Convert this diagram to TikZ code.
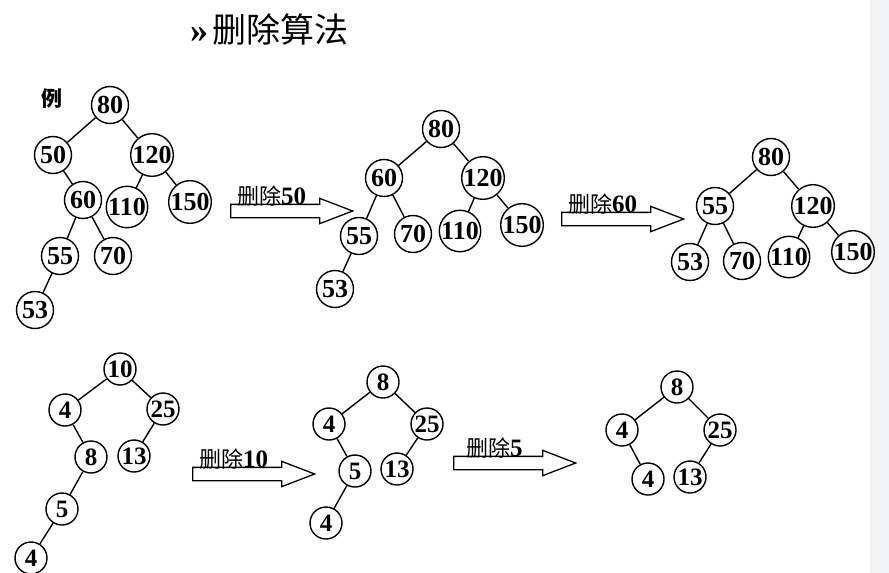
\documentclass[tikz,border=0pt]{standalone}
\usepackage{fontspec}
\setmainfont{Liberation Serif}
\newfontfamily\cjk{Noto Sans CJK SC}
\usetikzlibrary{shapes.arrows}
\definecolor{stripgray}{HTML}{F3F4F6}
\newcommand{\tdel}[1]{{\cjk\fontsize{22}{22}\selectfont 删除}{\fontsize{25}{25}\selectfont\bfseries #1}}

\begin{document}
\begin{tikzpicture}[x=1pt,y=-1pt,
    bignode/.style={circle,draw,line width=1.4pt,inner sep=0pt,minimum size=37pt,font=\fontsize{26}{26}\selectfont\bfseries},
    smallnode/.style={bignode,minimum size=32pt,font=\fontsize{25}{25}\selectfont\bfseries},
    edge/.style={line width=1.4pt},
    delarrow/.style={single arrow,draw,line width=1.3pt,inner xsep=0pt,inner ysep=6pt,minimum height=122pt,minimum width=24pt,
      single arrow head extend=6pt,single arrow tip angle=42,anchor=tail},
    dellabel/.style={anchor=base west,inner sep=0pt}]
  \useasboundingbox (0,0) rectangle (889,573);
  \fill[stripgray] (870,0) rectangle (889,573);

  % title
  \node[anchor=base west,inner sep=0pt] (title) at (190,42)
    {{\fontsize{36}{36}\selectfont\bfseries »}\kern4pt{\cjk\fontsize{34}{34}\selectfont 删除算法}};
  \node[anchor=base,inner sep=0pt] (example) at (52,106) {\cjk\bfseries\fontsize{21}{21}\selectfont 例};

  % first row
  \foreach \n/\x/\y in {80/110/105,50/53/155,120/152/155,60/83/200,110/127/207,150/190/202,55/60/256,70/113/256,53/35/310}
    \node[bignode] (a\n) at (\x,\y) {\n};
  \foreach \n/\x/\y in {80/441/129,60/384/178,120/483/178,55/359/236,70/413/234,110/460/231,150/522/225,53/335/289}
    \node[bignode] (b\n) at (\x,\y) {\n};
  \foreach \n/\x/\y in {80/771/157,55/715/206,120/813/206,53/690/262,70/742/261,110/789/257,150/853/252}
    \node[bignode] (c\n) at (\x,\y) {\n};
  \foreach \u/\v in {a80/a50,a80/a120,a50/a60,a120/a110,a120/a150,a60/a55,a60/a70,a55/a53,
                     b80/b60,b80/b120,b60/b55,b60/b70,b120/b110,b120/b150,b55/b53,
                     c80/c55,c80/c120,c55/c53,c55/c70,c120/c110,c120/c150}
    \draw[edge] (\u) -- (\v);

  \node[delarrow] (del50) at (230,211) {};
  \node[dellabel] at ([xshift=7pt,yshift=7pt]del50.tail) {\tdel{50}};
  \node[delarrow] (del60) at (561,219) {};
  \node[dellabel] at ([xshift=7pt,yshift=7pt]del60.tail) {\tdel{60}};

  % second row
  \foreach \m/\n/\x/\y in {10/10/120/369,4/4/65/410,25/25/163/409,8/8/91/457,13/13/134/456,5/5/62/509,4b/4/31/558}
    \node[smallnode] (d\m) at (\x,\y) {\n};
  \foreach \m/\n/\x/\y in {8/8/383/382,4/4/329/424,25/25/427/424,5/5/355/471,13/13/397/469,4b/4/326/523}
    \node[smallnode] (e\m) at (\x,\y) {\n};
  \foreach \m/\n/\x/\y in {8/8/677/387,4/4/622/430,25/25/720/430,4b/4/648/479,13/13/690/477}
    \node[smallnode] (f\m) at (\x,\y) {\n};
  \foreach \u/\v in {d10/d4,d10/d25,d4/d8,d25/d13,d8/d5,d5/d4b,
                     e8/e4,e8/e25,e4/e5,e25/e13,e5/e4b,
                     f8/f4,f8/f25,f4/f4b,f25/f13}
    \draw[edge] (\u) -- (\v);

  \node[delarrow] (del10) at (192,474) {};
  \node[dellabel] at ([xshift=7pt,yshift=7pt]del10.tail) {\tdel{10}};
  \node[delarrow] (del5) at (453,463) {};
  \node[dellabel] at ([xshift=13pt,yshift=7pt]del5.tail) {\tdel{5}};
\end{tikzpicture}
\end{document}
